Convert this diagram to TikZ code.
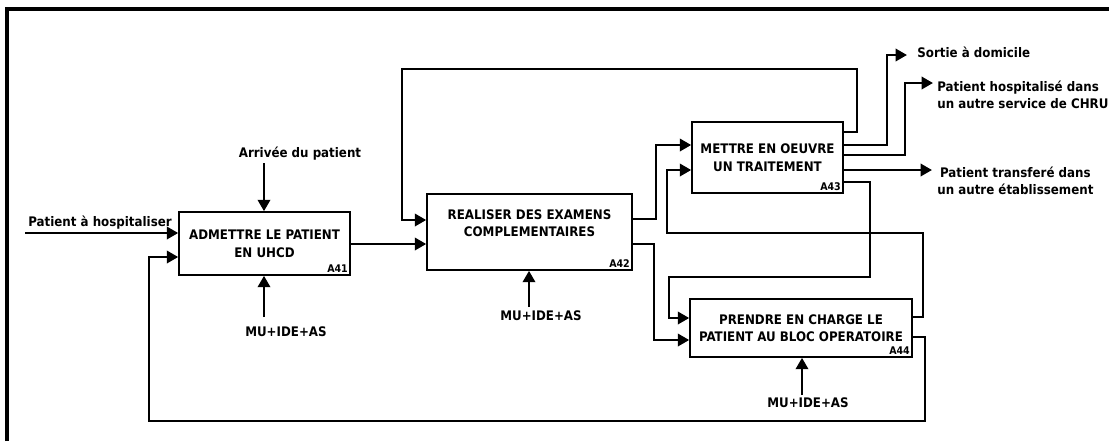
\documentclass[tikz,border=0pt]{standalone}
\usepackage{fontspec}
\setmainfont{DejaVu Sans Condensed}
\usetikzlibrary{arrows.meta,positioning}

\begin{document}
\begin{tikzpicture}[x=0.02cm,y=-0.02cm]%
\tikzstyle{proc}=[rectangle,draw=black,line width=0.9pt,fill=white,align=center,font=\fontsize{7.5}{10}\selectfont\bfseries,inner sep=0pt]
\tikzstyle{tag}=[font=\fontsize{6}{6}\selectfont\bfseries,inner sep=1.5pt,anchor=south east]
\tikzstyle{lbl}=[font=\fontsize{7.5}{10}\selectfont\bfseries,inner sep=0pt]
\tikzstyle{flow}=[line width=1.5pt,-{Triangle[length=6.5pt,width=7pt]}]
\useasboundingbox (0,0) rectangle (1109,441);
% cadre
\draw[line width=1.9pt] (7,441) -- (7,9) -- (1109,9);
% activites
\node[proc,minimum width=3.42cm,minimum height=1.26cm] (A41) at (264.5,243.5) {ADMETTRE LE PATIENT\\EN UHCD};
\node[proc,minimum width=4.1cm,minimum height=1.52cm] (A42) at (529.5,232) {REALISER DES EXAMENS\\COMPLEMENTAIRES\\\mbox{}};
\node[proc,minimum width=3.02cm,minimum height=1.42cm] (A43) at (767.5,157.5) {METTRE EN OEUVRE\\UN TRAITEMENT};
\node[proc,minimum width=4.44cm,minimum height=1.16cm] (A44) at (801,328) {PRENDRE EN CHARGE LE\\PATIENT AU BLOC OPERATOIRE};
\node[tag] at (A41.south east) {A41};
\node[tag] at (A42.south east) {A42};
\node[tag] at (A43.south east) {A43};
\node[tag] at (A44.south east) {A44};
% entrees, controles, mecanismes
\node[lbl,anchor=south west] (hosp) at (28,230) {Patient à hospitaliser};
\coordinate (hospin) at (25,233);
\node[lbl] (arrivee) at (300,154) {Arrivée du patient};
\coordinate (arrin) at (264,163);
\node[lbl] (mu1) at (286,332) {MU+IDE+AS};
\node[lbl] (mu2) at (541,316) {MU+IDE+AS};
\node[lbl] (mu3) at (808,403) {MU+IDE+AS};
\coordinate (mu1in) at (264,317);
\coordinate (mu2in) at (529,307);
\coordinate (mu3in) at (802,395);
% sorties
\node[lbl,anchor=west] (sortie) at (917,52) {Sortie à domicile};
\node[lbl,anchor=west,align=left] (chru) at (937,95) {Patient hospitalisé dans\\un autre service de CHRU};
\node[lbl,anchor=west,align=center] (etab) at (937,181) {Patient transferé dans\\un autre établissement};
\coordinate (sortiein) at (907,55);
\coordinate (chruin) at (933,83);
\coordinate (etabin) at (932,170);
% fleches
\draw[flow] (hospin) -- (A41.west |- 0,233);
\draw[flow] (arrin) -- (A41.north -| 264,0);
\draw[flow] (mu1in) -- (A41.south -| 264,0);
\draw[flow] (mu2in) -- (A42.south -| 529,0);
\draw[flow] (mu3in) -- (A44.south -| 802,0);
\draw[flow] (A41.east |- 0,244) -- (A42.west |- 0,244);
\draw[flow] (A43.east |- 0,132) -| (857,69) -| (402,220) -- (A42.west |- 0,220);
\draw[flow] (A42.east |- 0,219) -| (656,145) -- (A43.west |- 0,145);
\draw[flow] (A42.east |- 0,244) -| (654,340) -- (A44.west |- 0,340);
\draw[flow] (A43.east |- 0,145) -| (887,55) -- (sortiein);
\draw[flow] (A43.east |- 0,155) -| (905,83) -- (chruin);
\draw[flow] (A43.east |- 0,170) -- (etabin);
\draw[flow] (A43.east |- 0,182) -| (870,277) -| (669,318) -- (A44.west |- 0,318);
\draw[flow] (A44.east |- 0,317) -| (923,233) -| (667,170) -- (A43.west |- 0,170);
\draw[flow] (A44.east |- 0,337) -| (925,421) -| (149,257) -- (A41.west |- 0,257);
\end{tikzpicture}
\end{document}
